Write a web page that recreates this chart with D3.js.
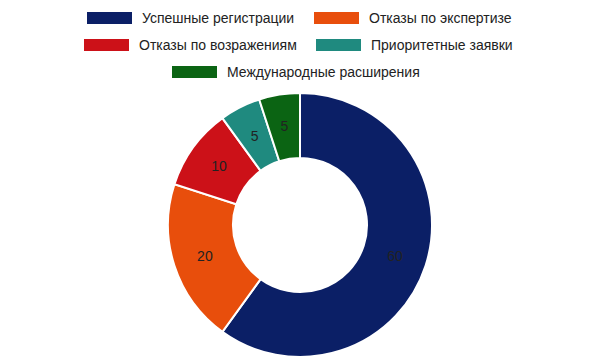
<!DOCTYPE html>
<html><head><meta charset="utf-8">
<script src="https://cdn.jsdelivr.net/npm/d3@7/dist/d3.min.js"></script>
<style>body{margin:0;background:#fff}svg{display:block}</style>
</head><body>
<svg id="c" width="600" height="360"></svg>
<script>
const categories = ["Успешные регистрации","Отказы по экспертизе","Отказы по возражениям","Приоритетные заявки","Международные расширения"];
const values = [60,20,10,5,5];
const colors = ["#0b1f66","#e84e0c","#cc1118","#1f8a7f","#0b6413"];

const svg = d3.select("#c");
const font = "'Liberation Sans', Arial, sans-serif";
const cx = 300, cy = 225, rOut = 132, rIn = 67;

const pie = d3.pie().sort(null).value(d => d)(values);
const arc = d3.arc().innerRadius(rIn).outerRadius(rOut);
const g = svg.append("g").attr("transform", `translate(${cx},${cy})`);
g.selectAll("path").data(pie).join("path")
  .attr("d", arc).attr("fill", (d,i) => colors[i])
  .attr("stroke", "#fff").attr("stroke-width", 2);
const lab = d3.arc().innerRadius(100).outerRadius(100);
g.selectAll("text").data(pie).join("text")
  .attr("transform", d => `translate(${lab.centroid(d)})`)
  .attr("text-anchor","middle").attr("dy","0.35em")
  .attr("font-family", font).attr("font-size", 14).attr("fill", "#222")
  .text(d => d.data);

// legend
const legendPos = [
  {x:87, y:18},{x:314, y:18},
  {x:84, y:45},{x:316, y:45},
  {x:172, y:72}
];
const lg = svg.append("g");
categories.forEach((c,i) => {
  const p = legendPos[i];
  lg.append("rect").attr("x", p.x).attr("y", p.y-6).attr("width", 45).attr("height", 12).attr("fill", colors[i]);
  lg.append("text").attr("x", p.x+55).attr("y", p.y).attr("dy","0.35em")
    .attr("font-family", font).attr("font-size", 14).attr("fill","#222").text(c);
});
</script>
</body></html>
